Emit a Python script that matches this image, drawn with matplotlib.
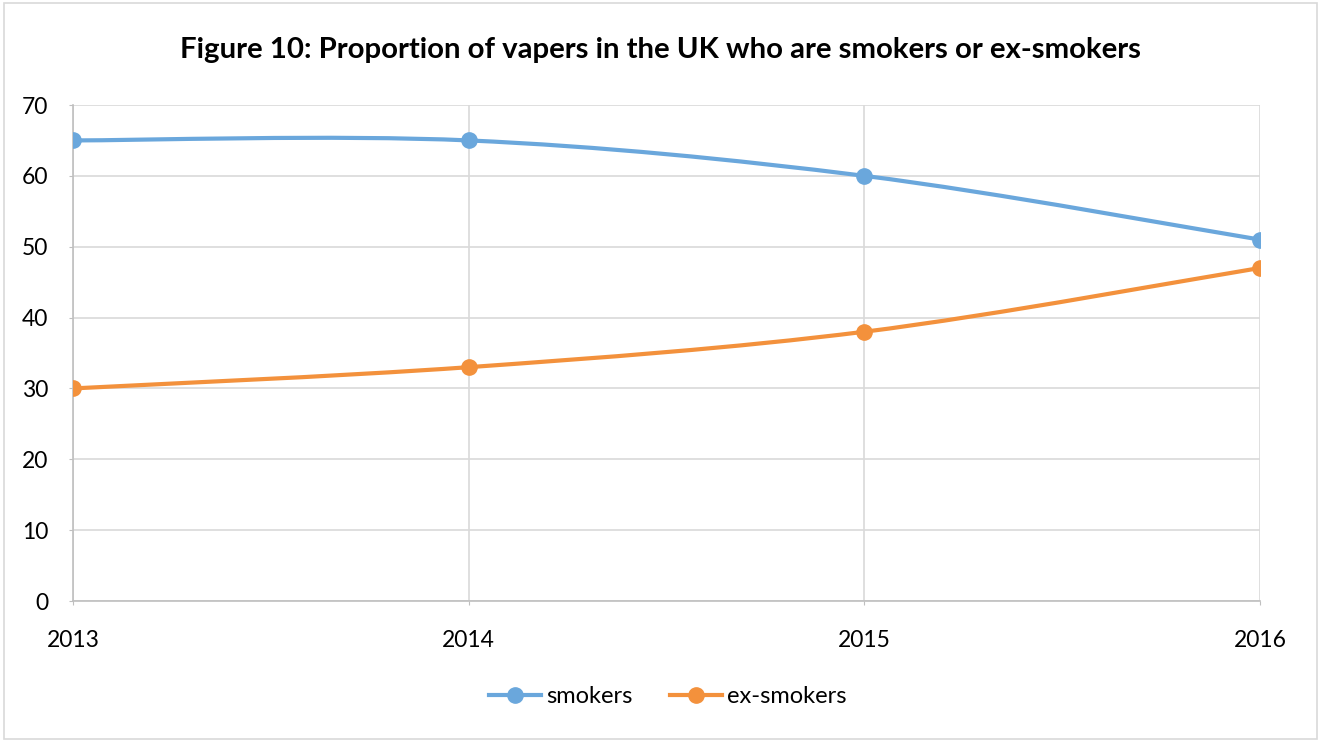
import matplotlib.pyplot as plt
from matplotlib.path import Path
from matplotlib.patches import PathPatch, Rectangle
from matplotlib.lines import Line2D

plt.rcParams['font.family'] = ['Lato', 'DejaVu Sans']

years = ['2013', '2014', '2015', '2016']
smokers = [65, 65, 60, 51]
ex_smokers = [30, 33, 38, 47]

blue = '#6aa7dc'
orange = '#f3913c'
grid = '#d9d9d9'


def smooth_path(xs, ys):
    # bezier curve like Excel "smoothed line"
    pts = list(zip(xs, ys))
    n = len(pts)
    verts = [pts[0]]
    codes = [Path.MOVETO]
    for i in range(n - 1):
        p0 = pts[max(i - 1, 0)]
        p1 = pts[i]
        p2 = pts[i + 1]
        p3 = pts[min(i + 2, n - 1)]
        c1 = (p1[0] + (p2[0] - p0[0]) / 6, p1[1] + (p2[1] - p0[1]) / 6)
        c2 = (p2[0] - (p3[0] - p1[0]) / 6, p2[1] - (p3[1] - p1[1]) / 6)
        verts += [c1, c2, p2]
        codes += [Path.CURVE4] * 3
    return Path(verts, codes)


fig = plt.figure(figsize=(13.21, 7.42), dpi=100)
ax = fig.add_axes([73 / 1321, 141 / 742, 1187 / 1321, 496 / 742])

x = list(range(len(years)))
for vals, col, name in [(smokers, blue, 'smokers'), (ex_smokers, orange, 'ex-smokers')]:
    ax.add_patch(PathPatch(smooth_path(x, vals), facecolor='none', edgecolor=col,
                           lw=3, capstyle='round', zorder=3))
    ax.plot(x, vals, 'o', color=col, markersize=11, zorder=4)

ax.set_xlim(0, 3)
ax.set_ylim(0, 70)
ax.set_yticks(range(0, 71, 10))
ax.set_xticks(x)
ax.set_xticklabels(years)
ax.grid(True, color=grid, lw=1.2)
ax.set_axisbelow(True)
for s in ['top', 'right']:
    ax.spines[s].set_visible(False)
for s in ['left', 'bottom']:
    ax.spines[s].set_color('#bfbfbf')
    ax.spines[s].set_linewidth(1.2)
ax.tick_params(axis='y', length=3, color='#bfbfbf', pad=15, labelsize=16.5)
ax.tick_params(axis='x', length=3, color='#bfbfbf', pad=18, labelsize=16.5)

fig.text(0.5, 0.932, 'Figure 10: Proportion of vapers in the UK who are smokers or ex-smokers',
         ha='center', va='center', fontsize=21.2, fontweight='bold')

handles = [Line2D([], [], color=blue, lw=3, marker='o', markersize=11),
           Line2D([], [], color=orange, lw=3, marker='o', markersize=11)]
fig.legend(handles, ['smokers', 'ex-smokers'], loc='center', bbox_to_anchor=(0.5055, 0.061),
           ncol=2, frameon=False, fontsize=17, handlelength=2.2, handletextpad=0.2,
           columnspacing=1.6)

fig.add_artist(Rectangle((0.003, 0.004), 0.994, 0.992, transform=fig.transFigure,
                         fill=False, edgecolor=grid, lw=1.2))

fig.savefig('out.png', dpi=100)
